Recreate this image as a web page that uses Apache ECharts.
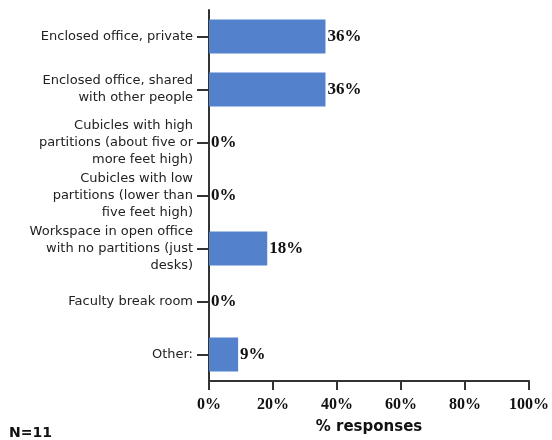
<!DOCTYPE html>
<html>
<head>
<meta charset="utf-8">
<script src="https://cdn.jsdelivr.net/npm/echarts@6/dist/echarts.min.js"></script>
<style>html,body{margin:0;padding:0;background:#fff;}#c{width:552px;height:440px;}</style>
</head>
<body>
<div id="c"></div>
<script>
var categories = [
  "Enclosed office, private",
  "Enclosed office, shared\nwith other people",
  "Cubicles with high\npartitions (about five or\nmore feet high)",
  "Cubicles with low\npartitions (lower than\nfive feet high)",
  "Workspace in open office\nwith no partitions (just\ndesks)",
  "Faculty break room",
  "Other:"
];
var values = [36.4, 36.4, 0, 0, 18.2, 0, 9.1];
var xTicks = [0, 20, 40, 60, 80, 100];
var axisTitle = "% responses";
var note = "N=11";

var chart = echarts.init(document.getElementById('c'), null, {renderer: 'canvas'});
chart.setOption({
  animation: false,
  backgroundColor: '#fff',
  title: {
    text: note, left: 4, top: 421,
    textStyle: {fontFamily: 'DejaVu Sans', fontWeight: 'bold', fontSize: 14, color: '#111'}
  },
  grid: {left: 209, right: 22, top: 10, bottom: 57, containLabel: false},
  xAxis: {
    type: 'value', min: 0, max: 100, interval: 20,
    name: axisTitle, nameLocation: 'middle', nameGap: 39,
    nameTextStyle: {fontFamily: 'DejaVu Sans', fontWeight: 'bold', fontSize: 15, color: '#111'},
    axisLine: {show: true, lineStyle: {color: '#333', width: 2}},
    axisTick: {show: true, length: 9, lineStyle: {color: '#333', width: 2}},
    splitLine: {show: false},
    axisLabel: {
      margin: 16,
      fontFamily: 'Liberation Serif', fontWeight: 'bold', fontSize: 16, color: '#111',
      formatter: function (v) { return xTicks.indexOf(v) >= 0 ? v + '%' : ''; }
    }
  },
  yAxis: {
    type: 'category', data: categories, inverse: true,
    axisLine: {show: true, lineStyle: {color: '#333', width: 2}},
    axisTick: {show: true, length: 12, alignWithLabel: true, lineStyle: {color: '#333', width: 2}},
    axisLabel: {
      margin: 16, fontFamily: 'DejaVu Sans', fontSize: 13, color: '#222',
      lineHeight: 17, align: 'right'
    }
  },
  series: [{
    type: 'bar', data: values, barWidth: 34,
    itemStyle: {color: '#5381cc'},
    label: {
      show: true, position: 'right', distance: 2,
      fontFamily: 'Liberation Serif', fontWeight: 'bold', fontSize: 17, color: '#111',
      formatter: function (p) { return Math.round(p.value) + '%'; }
    }
  }]
});
</script>
</body>
</html>
